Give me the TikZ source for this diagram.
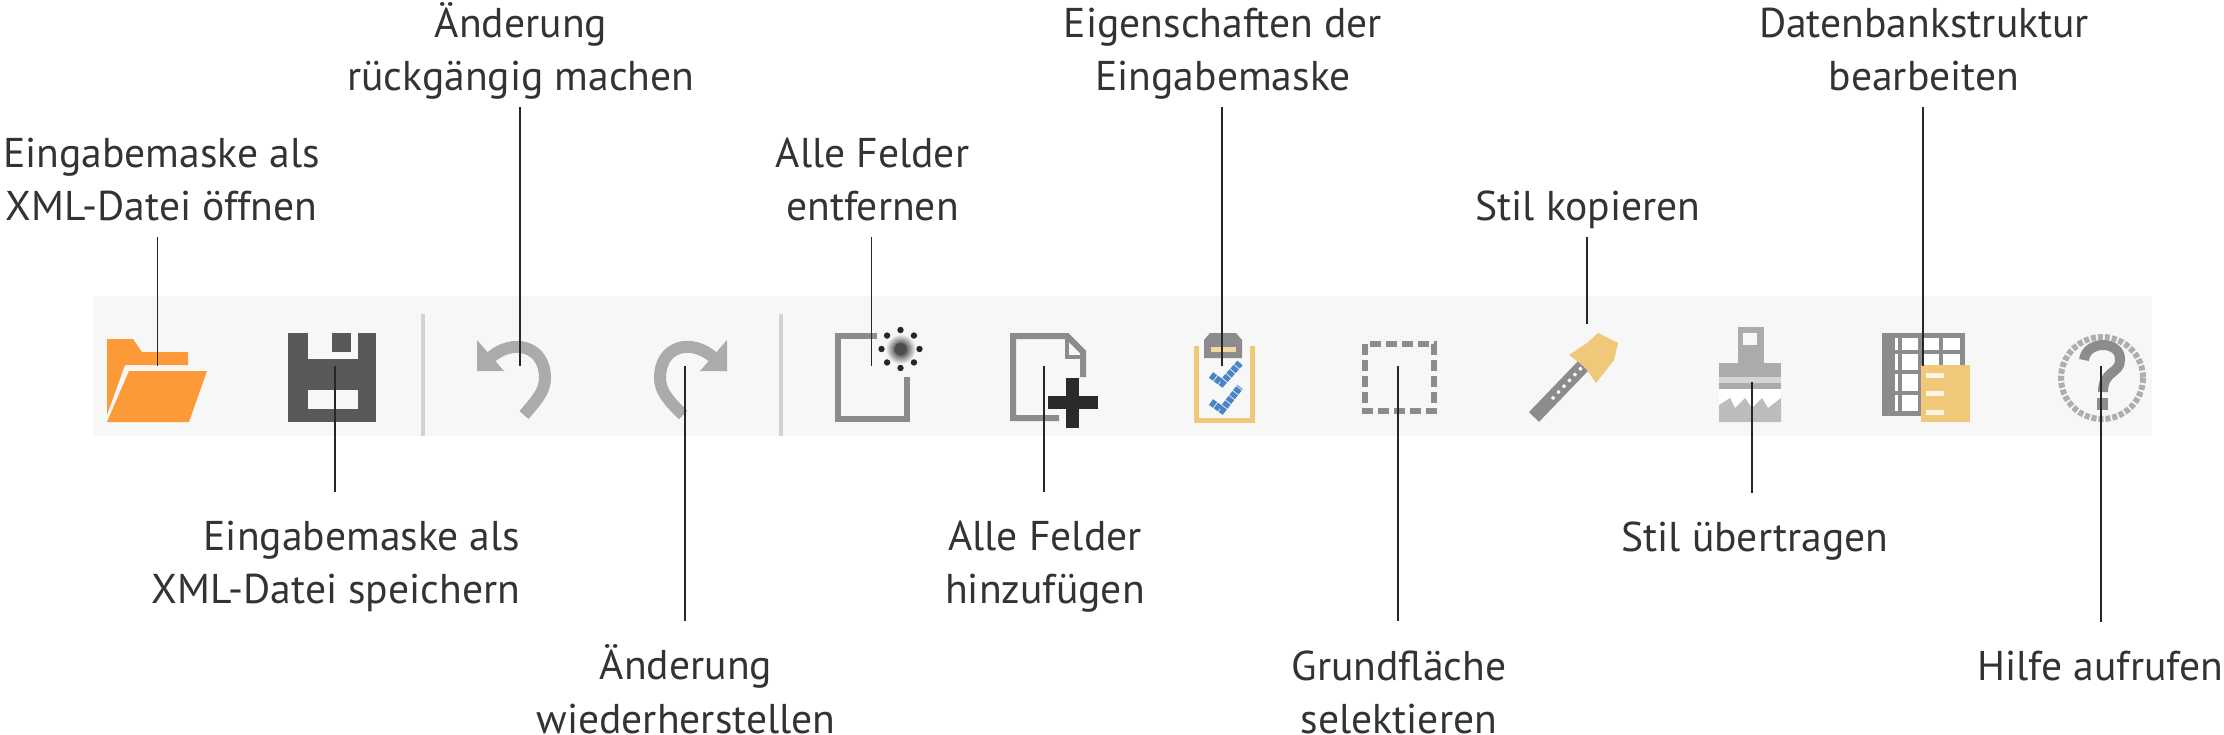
\documentclass[tikz,border=0pt]{standalone}
\usepackage{fontspec}
\setmainfont{PT Sans}
\usetikzlibrary{positioning}
\definecolor{barbg}{HTML}{F7F7F7}
\definecolor{sepgrey}{HTML}{D2D2D2}
\definecolor{folderorange}{HTML}{FD9A38}
\definecolor{savegrey}{HTML}{595959}
\definecolor{softgrey}{HTML}{ABABAB}
\definecolor{midgrey}{HTML}{8C8C8C}
\definecolor{plusblack}{HTML}{2A2A2A}
\definecolor{paleyellow}{HTML}{EFC879}
\definecolor{checkblue}{HTML}{4A84C4}
\tikzstyle{arrow} = [line width=1.5pt, black!85]
\begin{document}
\begin{tikzpicture}[x=1pt,y=-1pt,
toollabel/.style={inner sep=0pt, xshift=1pt, align=center, text=black!80, font=\fontsize{41.6}{53.5}\selectfont, execute at begin node=\strut},
toplabel/.style={toollabel, execute at end node=\strut},
rightlabel/.style={toollabel, align=right},
]
\useasboundingbox (0,0) rectangle (2224,734);
%Toolbar
\fill[barbg] (93,296) rectangle (2152,436);
\fill[sepgrey] (421,314) rectangle (425,436);
\fill[sepgrey] (779,314) rectangle (783,436);

%Folder
\fill[folderorange] (107,339) -- (133,339) -- (142,352) -- (188,352) -- (188,365) -- (125,365) -- (107,415) -- cycle;
\fill[folderorange] (129,371) -- (207,371) -- (189,422) -- (107,422) -- cycle;
%Save
\fill[savegrey] (288,333) rectangle (376,422);
\fill[barbg] (308,333) rectangle (358,359);
\fill[savegrey] (332,333) rectangle (351,352);
\fill[barbg] (308,390) rectangle (358,409);
%Undo
\fill[softgrey] (477,340) -- (477,371) -- (504,371) -- cycle;
\draw[softgrey, line width=12pt] (490,358) .. controls (512,338) and (545,345) .. (545,378) .. controls (545,392) and (535,402) .. (524,415);
%Redo
\fill[softgrey] (727,340) -- (727,371) -- (700,371) -- cycle;
\draw[softgrey, line width=12pt] (714,358) .. controls (692,338) and (660,345) .. (660,378) .. controls (660,392) and (670,402) .. (683,415);
%Remove fields
\draw[midgrey, line width=6pt] (877,336) -- (838,336) -- (838,419) -- (907,419) -- (907,377);
\shade[inner color=black, outer color=barbg] (900.5,349) circle (15);
\fill[black!70] (900.5,349) circle (6);
\foreach \a in {0,45,...,315}
  \fill[black!85] (900.5,349) ++(\a:19) circle (3.2);
%Add fields
\draw[midgrey, line width=6pt] (1059,418) -- (1013,418) -- (1013,336) -- (1067,336) -- (1083,352) -- (1083,377);
\draw[midgrey, line width=4pt] (1067,336) -- (1067,357) -- (1083,357);
\fill[plusblack] (1048,396) rectangle (1098,409);
\fill[plusblack] (1066,378) rectangle (1079,428);
%Properties
\draw[paleyellow, line width=5pt] (1196,346) -- (1196,420) -- (1252,420) -- (1252,346);
\fill[midgrey] (1204,340) -- (1210,333) -- (1236,333) -- (1242,340) -- (1242,358) -- (1204,358) -- cycle;
\fill[paleyellow!70!white] (1211,347) rectangle (1236,352);
\draw[checkblue, line width=7pt, dash pattern=on 5pt off 1pt] (1211,375) -- (1222,383) -- (1240,363);
\draw[checkblue, line width=7pt, dash pattern=on 5pt off 1pt] (1211,402) -- (1222,410) -- (1240,387);
%Selection
\draw[midgrey, line width=6pt, dash pattern=on 11pt off 5pt] (1365,344) rectangle (1434,411);
%Pipette
\draw[midgrey, line width=14pt] (1534,417) -- (1583,366);
\draw[white, line width=3pt, dash pattern=on 3pt off 5pt] (1552,399) -- (1582,367);
\fill[paleyellow] (1598,333) -- (1618,343) -- (1614,360) -- (1596,383) -- (1585,367) -- (1569,355) -- (1587,343) -- cycle;
%Brush
\fill[softgrey] (1738,327) rectangle (1764,365);
\fill[barbg] (1743,333) rectangle (1757,345);
\fill[softgrey] (1719,363) rectangle (1781,377);
\fill[softgrey!50!white] (1719,377) rectangle (1781,383);
\fill[softgrey] (1719,383) rectangle (1781,389);
\fill[white] (1719,389) rectangle (1781,422);
\fill[softgrey!80!white] (1719,422) -- (1719,405) -- (1730,398) -- (1735,408) -- (1745,398) -- (1752,408) -- (1762,398) -- (1768,408) -- (1781,398) -- (1781,422) -- cycle;
%Table
\fill[white] (1882,333) rectangle (1963,415);
\draw[midgrey, line width=5pt] (1884,335) rectangle (1962,413);
\foreach \cx in {1900,1920,1941}
  \draw[midgrey, line width=4pt] (\cx,335) -- (\cx,413);
\foreach \cy in {352,372,393}
  \draw[midgrey, line width=4pt] (1884,\cy) -- (1962,\cy);
\fill[midgrey] (1882,333) rectangle (1895,415);
\fill[paleyellow] (1921,365) rectangle (1970,422);
\foreach \ry in {375,393,412}
  \fill[white!80!paleyellow] (1926,\ry-2.5) rectangle (1944,\ry+2.5);
%Help
\draw[midgrey!70!white, line width=6pt, dash pattern=on 5pt off 2pt] (2102,378) circle (41);
\draw[midgrey, line width=10pt] (2084,360) .. controls (2086,340) and (2121,340) .. (2120,360) .. controls (2120,374) and (2103,370) .. (2103,392);
\fill[midgrey] (2097,398) rectangle (2108,410);

%Nodes
\coordinate (openend)     at (157.5,366);
\coordinate (saveend)     at (335,366);
\coordinate (undoend)     at (520,366);
\coordinate (redoend)     at (685,366);
\coordinate (removeend)   at (871.5,366);
\coordinate (addend)      at (1044,366);
\coordinate (propend)     at (1222,366);
\coordinate (selectend)   at (1398,366);
\coordinate (copyend)     at (1587,324);
\coordinate (pasteend)    at (1752,382);
\coordinate (tableend)    at (1923,366);
\coordinate (helpend)     at (2101,366);

\node[toplabel, xshift=3pt] (openlabel) [above=129pt of openend]   {Eingabemaske als\\XML-Datei öffnen};
\node[rightlabel] (savelabel)  [below=154.5pt of saveend]  {Eingabemaske als\\XML-Datei speichern};
\node[toplabel] (undolabel)    [above=259pt of undoend]    {Änderung\\rückgängig machen};
\node[toollabel] (redolabel)   [below=278.5pt of redoend]  {Änderung\\wiederherstellen};
\node[toplabel] (removelabel)  [above=129pt of removeend]  {Alle Felder\\entfernen};
\node[toollabel] (addlabel)    [below=154.5pt of addend]   {Alle Felder\\hinzufügen};
\node[toplabel] (proplabel)    [above=259pt of propend]    {Eigenschaften der\\Eingabemaske};
\node[toollabel] (selectlabel) [below=284.5pt of selectend] {Grundfläche\\selektieren};
\node[toplabel] (copylabel)    [above=87pt of copyend]     {Stil kopieren};
\node[toollabel, xshift=2pt] (pastelabel) [below=131.5pt of pasteend] {Stil übertragen};
\node[toplabel] (tablelabel)   [above=259pt of tableend]   {Datenbankstruktur\\bearbeiten};
\node[toollabel, xshift=-1.5pt] (helplabel) [below=276.5pt of helpend] {Hilfe aufrufen};

%Lines
\draw[arrow] (openend |- openlabel.south) -- (openend);
\draw[arrow] (saveend |- savelabel.north) ++(0,-28.5) -- (saveend);
\draw[arrow] (undoend |- undolabel.south) -- (undoend);
\draw[arrow] (redoend |- redolabel.north) ++(0,-23.5) -- (redoend);
\draw[arrow] (removeend |- removelabel.south) -- (removeend);
\draw[arrow] (addend |- addlabel.north) ++(0,-28.5) -- (addend);
\draw[arrow] (propend |- proplabel.south) -- (propend);
\draw[arrow] (selectend |- selectlabel.north) ++(0,-29.5) -- (selectend);
\draw[arrow] (copyend |- copylabel.south) -- (copyend);
\draw[arrow] (pasteend |- pastelabel.north) ++(0,-21) -- (pasteend);
\draw[arrow] (tableend |- tablelabel.south) -- (tableend);
\draw[arrow] (helpend |- helplabel.north) ++(0,-21) -- (helpend);
\end{tikzpicture}
\end{document}
